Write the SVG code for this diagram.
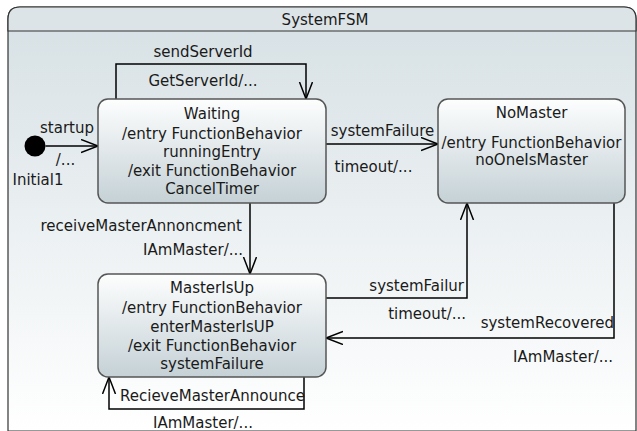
<svg xmlns="http://www.w3.org/2000/svg" width="637" height="431" viewBox="0 0 637 431">
<defs>
<linearGradient id="frameGrad" x1="0" y1="0" x2="0" y2="1">
<stop offset="0" stop-color="#d6e0e4"/>
<stop offset="1" stop-color="#ffffff"/>
</linearGradient>
<linearGradient id="nodeGrad" x1="0" y1="0" x2="0" y2="1">
<stop offset="0" stop-color="#fdfefe"/>
<stop offset="1" stop-color="#c5d1d6"/>
</linearGradient>
<marker id="arrow" markerWidth="20" markerHeight="16" refX="17" refY="7" orient="auto" markerUnits="userSpaceOnUse">
<path d="M0,0.5 L17,7 L0,13.5" fill="none" stroke="#000" stroke-width="1.5"/>
</marker>
<style>
text{font-family:"DejaVu Sans","Liberation Sans",sans-serif;font-size:15px;fill:#1a1a1a;dominant-baseline:central}
.c{text-anchor:middle}
.e{text-anchor:end}
.node{fill:url(#nodeGrad);stroke:#555;stroke-width:1.5}
.edge{fill:none;stroke:#000;stroke-width:1.5}
</style>
</defs>
<g id="frame">
<path d="M8,431 Q8,419 8,419 L8,19 Q8,7 20,7 L624,7 Q636,7 636,19 L636,431 Z" fill="url(#frameGrad)" stroke="#333" stroke-width="1.2"/>
<path d="M8,31 L8,19 Q8,7 20,7 L624,7 Q636,7 636,19 L636,31 Z" fill="#dce4e7" stroke="#333" stroke-width="1.2"/>
<text x="325" y="20" class="c">SystemFSM</text>
</g>
<g id="connectors">
<path class="edge" d="M116,99 L116,64 L306,64 L306,99" marker-end="url(#arrow)"/>
<path class="edge" d="M45.5,146 L98,146" marker-end="url(#arrow)"/>
<path class="edge" d="M326,144 L438,144" marker-end="url(#arrow)"/>
<path class="edge" d="M250,203 L250,274" marker-end="url(#arrow)"/>
<path class="edge" d="M326,298 L467,298 L467,203" marker-end="url(#arrow)"/>
<path class="edge" d="M614,203 L614,338 L326,338" marker-end="url(#arrow)"/>
<path class="edge" d="M304,377 L304,409 L109,409 L109,377" marker-end="url(#arrow)"/>
<text x="203" y="52" class="c">sendServerId</text>
<text x="203" y="81" class="c">GetServerId/...</text>
<text x="67" y="128" class="c">startup</text>
<text x="65.5" y="160" class="c">/...</text>
<text x="382.5" y="131" class="c">systemFailure</text>
<text x="373.5" y="167" class="c">timeout/...</text>
<text x="242" y="226" class="e">receiveMasterAnnoncment</text>
<text x="243" y="250" class="e">IAmMaster/...</text>
<text x="464" y="286" class="e">systemFailur</text>
<text x="466" y="314" class="e">timeout/...</text>
<text x="614" y="323" class="e">systemRecovered</text>
<text x="613" y="357" class="e">IAmMaster/...</text>
<text x="120" y="396">RecieveMasterAnnounce</text>
<text x="203" y="423" class="c">IAmMaster/...</text>
</g>
<g id="Initial1">
<circle cx="35" cy="146" r="10.5" fill="#000"/>
<text x="38" y="180" class="c">Initial1</text>
</g>
<g id="Waiting">
<rect class="node" x="98" y="99" width="228" height="104" rx="10"/>
<text x="212" y="114" class="c">Waiting</text>
<text x="212" y="134" class="c">/entry FunctionBehavior</text>
<text x="212" y="152" class="c">runningEntry</text>
<text x="212" y="171" class="c">/exit FunctionBehavior</text>
<text x="212" y="189" class="c">CancelTimer</text>
</g>
<g id="NoMaster">
<rect class="node" x="438" y="99" width="187" height="104" rx="10"/>
<text x="531.5" y="113" class="c">NoMaster</text>
<text x="531.5" y="143" class="c">/entry FunctionBehavior</text>
<text x="531.5" y="160" class="c">noOneIsMaster</text>
</g>
<g id="MasterIsUp">
<rect class="node" x="98" y="274" width="228" height="103" rx="10"/>
<text x="212" y="288" class="c">MasterIsUp</text>
<text x="212" y="308" class="c">/entry FunctionBehavior</text>
<text x="212" y="327" class="c">enterMasterIsUP</text>
<text x="212" y="346" class="c">/exit FunctionBehavior</text>
<text x="212" y="364" class="c">systemFailure</text>
</g>
</svg>
